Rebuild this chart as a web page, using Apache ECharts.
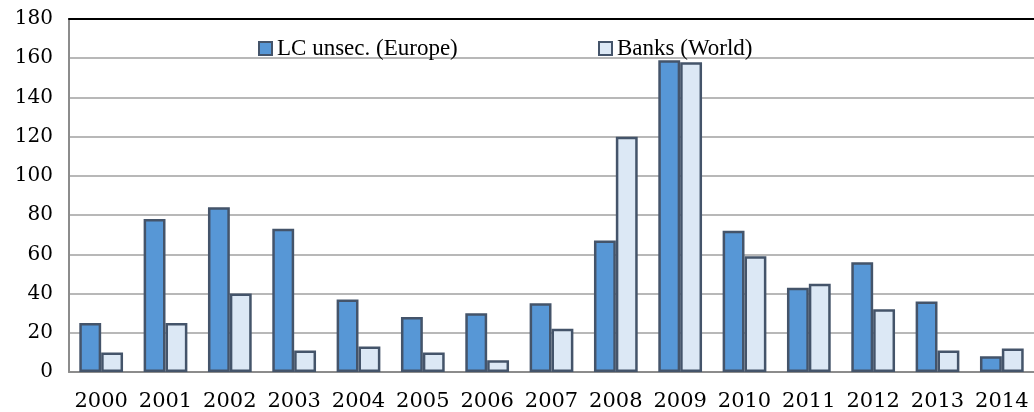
<!DOCTYPE html>
<html><head><meta charset="utf-8">
<script src="https://cdn.jsdelivr.net/npm/echarts@6/dist/echarts.min.js"></script>
<style>html,body{margin:0;padding:0;background:#fff}#c{width:1034px;height:412px}</style>
</head><body><div id="c"></div>
<script>
var categories = ['2000','2001','2002','2003','2004','2005','2006','2007','2008','2009','2010','2011','2012','2013','2014'];
var lcUnsecEurope = [25,78,84,73,37,28,30,35,67,159,72,43,56,36,8];
var banksWorld = [10,25,40,11,13,10,6,22,120,158,59,45,32,11,12];
var yTicks = {min:0, max:180, interval:20};

var chart = echarts.init(document.getElementById('c'));
var border = '#44546a';
var legendText = {fontFamily:'Liberation Serif', fontSize:23, color:'#000'};
chart.setOption({
  animation:false,
  grid:{left:69, right:-10, top:19, bottom:40},
  legend:[
    {data:['LC unsec. (Europe)'], left:253, top:32, itemWidth:13, itemHeight:13, itemGap:4, icon:'rect',
     itemStyle:{borderColor:border, borderWidth:2}, textStyle:legendText},
    {data:['Banks (World)'], left:593, top:32, itemWidth:13, itemHeight:13, icon:'rect',
     itemStyle:{borderColor:border, borderWidth:2}, textStyle:legendText}
  ],
  xAxis:[{
    type:'category', data:categories,
    axisLine:{lineStyle:{color:'#8c8c8c', width:2}},
    axisTick:{length:6, lineStyle:{color:'#8c8c8c', width:1.5}},
    axisLabel:{fontFamily:'DejaVu Serif', fontSize:21, color:'#000', margin:19, interval:0}
  },{
    type:'category', data:categories, position:'top',
    axisLine:{lineStyle:{color:'#000', width:2}},
    axisTick:{show:false}, axisLabel:{show:false}
  }],
  yAxis:{
    type:'value', min:yTicks.min, max:yTicks.max, interval:yTicks.interval,
    axisLine:{show:true, lineStyle:{color:'#8c8c8c', width:2}},
    axisTick:{show:false},
    splitLine:{lineStyle:{color:'#a0a0a0', width:1.5}},
    axisLabel:{fontFamily:'DejaVu Serif', fontSize:20, color:'#000', margin:16}
  },
  series:[
    {name:'LC unsec. (Europe)', type:'bar', data:lcUnsecEurope, barGap:'0%', barCategoryGap:'32%',
     itemStyle:{color:'#5797d6', borderColor:border, borderWidth:2.5}},
    {name:'Banks (World)', type:'bar', data:banksWorld,
     itemStyle:{color:'#dce8f5', borderColor:border, borderWidth:2.5}}
  ]
});
</script></body></html>
